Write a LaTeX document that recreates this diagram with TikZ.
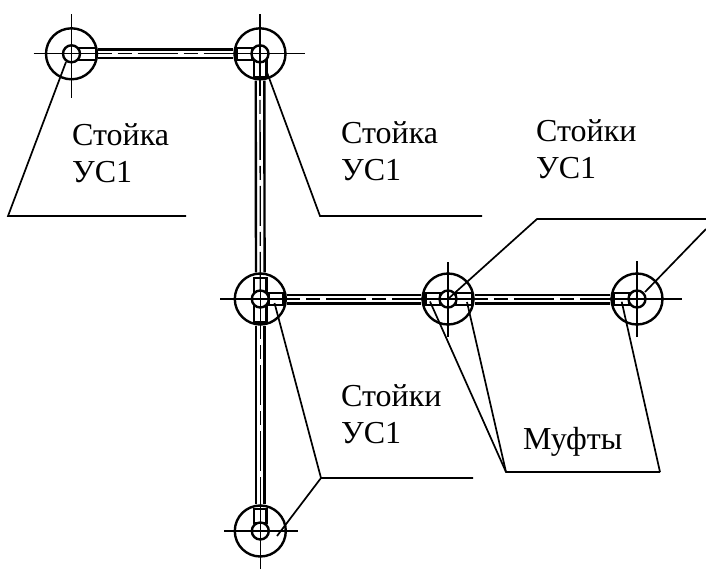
\documentclass[tikz,border=0pt]{standalone}
\usepackage{fontspec}
\setmainfont{Liberation Serif}
\tikzset{
	hub/.style={circle,draw,line width=2.4pt,minimum size=51pt,inner sep=0pt},
	bore/.style={circle,draw,line width=2.4pt,fill=white,minimum size=17pt,inner sep=0pt},
	pipe/.style={line width=2.4pt},
	axisline/.style={line width=1.3pt},
	leader/.style={line width=1.7pt},
	lbl/.style={align=left,anchor=north west,inner sep=0pt,font=\fontsize{32}{37.5}\selectfont}
}
\begin{document}
\begin{tikzpicture}[x=1pt,y=-1pt]
	\useasboundingbox (0,0) rectangle (706,571);

	% hubs
	\foreach \n/\x/\y in {hubA/71.5/53.8,hubB/260/53.8,hubC/260.3/299,hubD/448/299,hubE/637/299,hubF/260.3/531}{
		\node[hub] (\n) at (\x,\y) {};
	}

	% pipes
	\foreach \a/\b in {hubA/hubB,hubC/hubD,hubD/hubE}{
		\draw[pipe] ([yshift=-4.3pt]\a.east) -- ([yshift=-4.3pt]\b.west);
		\draw[pipe] ([yshift=4.3pt]\a.east) -- ([yshift=4.3pt]\b.west);
		\draw[axisline,dash pattern=on 40pt off 6pt on 14pt off 6pt] (\a.center) -- (\b.center);
	}
	\foreach \a/\b in {hubB/hubC,hubC/hubF}{
		\draw[pipe] ([xshift=-4.3pt]\a.south) -- ([xshift=-4.3pt]\b.north);
		\draw[pipe] ([xshift=4.3pt]\a.south) -- ([xshift=4.3pt]\b.north);
		\draw[axisline,dash pattern=on 40pt off 6pt on 14pt off 6pt] (\a.center) -- (\b.center);
	}

	% couplings
	\draw[pipe] (78,47.7) rectangle (96,60);
	\draw[pipe] (237,47.7) rectangle (252,60);
	\draw[pipe] (254.2,60) rectangle (266.4,77);
	\draw[pipe] (254.2,278) rectangle (266.4,292);
	\draw[pipe] (254.2,306) rectangle (266.4,322);
	\draw[pipe] (268.3,293) rectangle (283.5,305);
	\draw[pipe] (425.5,293) rectangle (440,305);
	\draw[pipe] (456,293) rectangle (472,305);
	\draw[pipe] (614,293) rectangle (629,305);
	\draw[pipe] (254.2,509) rectangle (266.4,523);

	% bores
	\foreach \n in {A,B,C,D,E,F}{
		\node[bore] (bore\n) at (hub\n.center) {};
	}

	% axes
	\foreach \n/\l/\r/\t/\u in {A/38/38/44/40,B/28/45/42/40,C/40/25/38/38,D/25/25/38/37,E/25/45/38/38,F/36/38/38/40}{
		\draw[axisline] ([xshift=-\l pt]hub\n.center) -- ([xshift=\r pt]hub\n.center);
		\draw[axisline] ([yshift=-\t pt]hub\n.center) -- ([yshift=\u pt]hub\n.center);
	}

	% leaders
	\coordinate (la) at (8,216);
	\coordinate (lae) at (186,216);
	\coordinate (lb) at (320,216);
	\coordinate (lbe) at (482,216);
	\coordinate (ld) at (537,219);
	\coordinate (lde) at (706,219);
	\coordinate (le) at (706,229);
	\coordinate (lc) at (321,478);
	\coordinate (lce) at (473,478);
	\coordinate (lm) at (506,472);
	\coordinate (lme) at (660,472);
	\draw[leader] (66,62) -- (la) -- (lae);
	\draw[leader] (266.5,71) -- (lb) -- (lbe);
	\draw[leader] (448,299) -- (ld) -- (lde);
	\draw[leader] (645,292) -- (le);
	\draw[leader] (274.5,303) -- (lc) -- (lce);
	\draw[leader] (277,536) -- (lc);
	\draw[leader] (430,301.5) -- (lm) -- (lme);
	\draw[leader] (467,302) -- (lm);
	\draw[leader] (621.7,301.7) -- (lme);

	% labels
	\node[lbl] (txtA) at (72,123) {Стойка\\УС1};
	\node[lbl] (txtB) at (341,121) {Стойка\\УС1};
	\node[lbl] (txtD) at (536,119) {Стойки\\УС1};
	\node[lbl] (txtC) at (341,384) {Стойки\\УС1};
	\node[lbl] (txtM) at (523,427) {Муфты};
\end{tikzpicture}
\end{document}
